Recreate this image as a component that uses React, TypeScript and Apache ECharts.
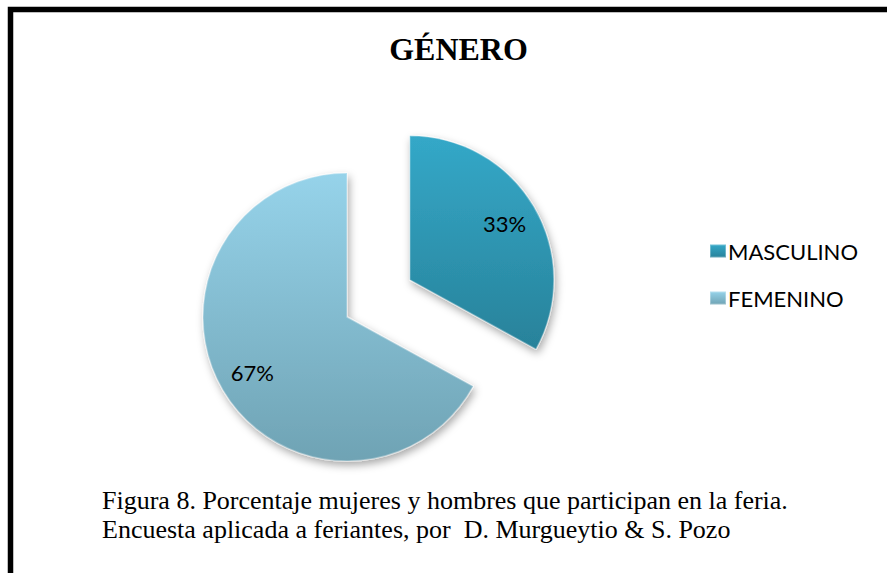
import React, { useEffect, useRef } from "react";
import * as echarts from "echarts";

const titleText = "GÉNERO";
const categories = ["MASCULINO", "FEMENINO"];
const values = [33, 67];
const captionLines = [
  "Figura 8. Porcentaje mujeres y hombres que participan en la feria.",
  "Encuesta aplicada a feriantes, por  D. Murgueytio & S. Pozo",
];

const gradients = [
  ["#34A8C8", "#28829A"],
  ["#96D3EA", "#6FA3B4"],
];

function grad(c: string[]) {
  return new echarts.graphic.LinearGradient(0, 0, 0, 1, [
    { offset: 0, color: c[0] },
    { offset: 1, color: c[1] },
  ]);
}

export default function App() {
  const ref = useRef<HTMLDivElement>(null);
  useEffect(() => {
    if (!ref.current) return;
    const chart = echarts.init(ref.current, undefined, { renderer: "svg" });
    const mainData = categories.map((name, i) => {
      const style = {
        color: grad(gradients[i]),
        borderColor: "rgba(255,255,255,0.3)",
        borderWidth: 1.5,
        shadowBlur: 8,
        shadowColor: "rgba(0,0,0,0.35)",
        shadowOffsetX: 2,
        shadowOffsetY: 4,
      };
      return {
        name,
        value: values[i],
        selected: i === 0,
        itemStyle: style,
        select: { itemStyle: style },
      };
    });
    const labelData = categories.map((name, i) => ({
      name,
      value: values[i],
      selected: i === 0,
    }));
    chart.setOption({
      animation: false,
      backgroundColor: "#ffffff",
      title: {
        text: titleText,
        left: 453.5,
        top: 28,
        textAlign: "center",
        textStyle: {
          fontFamily: "Liberation Serif",
          fontWeight: "bold",
          fontSize: 32,
          color: "#000",
        },
      },
      legend: {
        orient: "vertical",
        left: 704,
        top: 234,
        data: categories,
        selectedMode: false,
        icon: "rect",
        itemWidth: 16,
        itemHeight: 13,
        itemGap: 23,
        textStyle: {
          fontFamily: "Lato",
          fontSize: 22,
          lineHeight: 24,
          color: "#000",
          padding: [0, 0, 0, -3],
        },
      },
      series: [
        {
          type: "pie",
          center: [347, 317],
          radius: 144,
          startAngle: 90,
          clockwise: true,
          selectedMode: "single",
          selectedOffset: 73,
          label: { show: false },
          labelLine: { show: false },
          emphasis: { disabled: true },
          silent: true,
          data: mainData,
        },
        {
          type: "pie",
          center: [347, 317],
          radius: [70, 144],
          startAngle: 90,
          clockwise: true,
          selectedMode: "single",
          selectedOffset: 73,
          silent: true,
          emphasis: { disabled: true },
          itemStyle: { color: "rgba(0,0,0,0)" },
          select: { itemStyle: { color: "rgba(0,0,0,0)" } },
          labelLine: { show: false },
          label: {
            show: true,
            position: "inside",
            formatter: (p: any) => Math.round(p.percent) + "%",
            fontFamily: "Lato",
            fontSize: 22,
            color: "#000",
          },
          data: labelData,
        },
      ],
      graphic: [
        {
          type: "rect",
          shape: { x: 10.5, y: 9.5, width: 900, height: 600 },
          style: { fill: "none", stroke: "#000", lineWidth: 5.5 },
          silent: true,
        },
        ...captionLines.map((t, i) => ({
          type: "text",
          x: 102,
          y: 500 + i * 29,
          style: {
            text: t,
            fontFamily: "Liberation Serif",
            fontSize: 26,
            fill: "#000",
            verticalAlign: "middle",
            align: "left",
          },
          silent: true,
        })),
      ],
    });
    return () => chart.dispose();
  }, []);
  return (
    <div
      ref={ref}
      style={{ position: "fixed", left: 0, top: 0, width: 887, height: 573 }}
    />
  );
}
